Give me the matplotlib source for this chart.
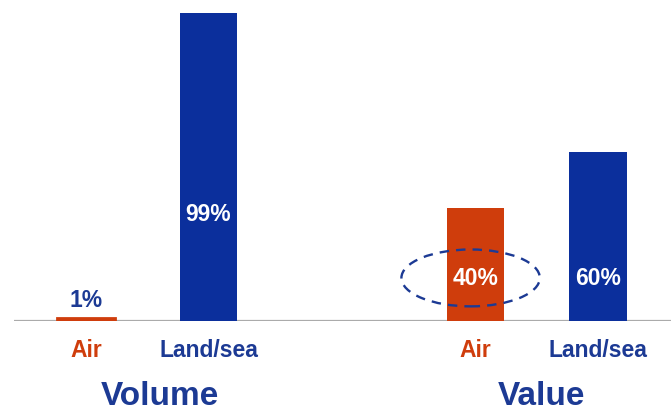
import matplotlib.pyplot as plt
import matplotlib.transforms as mtransforms
from matplotlib.patches import Ellipse

plt.rcParams['font.family'] = ['Liberation Sans', 'DejaVu Sans']

# data
groups = ['Volume', 'Value']
categories = ['Air', 'Land/sea']
volume_share = [1, 99]
value_share = [40, 60]
bar_labels_volume = ['1%', '99%']
bar_labels_value = ['40%', '60%']

red = '#CF3D0C'
blue = '#0B2F9C'
text_blue = '#1C3A94'

fig = plt.figure(figsize=(6.71, 4.14), dpi=100)
rect = [14 / 671, 92 / 414, 657 / 671, 308 / 414]
ax = fig.add_axes(rect)
ax2 = fig.add_axes(rect)

x_vol = [0, 1]
x_val = [3.18, 4.18]
w = 0.47
xlim = (-0.588, 4.776)

ax.bar(x_vol, volume_share, width=w, color=[red, blue], edgecolor=[red, blue], lw=[2, 0])
ax2.bar(x_val, value_share, width=w, color=[red, blue])
ax.set_ylim(0, 99)
ax2.set_ylim(0, 109.4)
for a in (ax, ax2):
    a.set_xlim(*xlim)
    a.axis('off')
ax2.patch.set_alpha(0)
ax.axhline(0, color='#ABABAB', lw=1.6, zorder=0)

# value labels
ax.text(x_vol[0], volume_share[0] + 6, bar_labels_volume[0], ha='center', va='center',
        color=text_blue, fontsize=16.5, fontweight='bold')
ax.text(x_vol[1], 34.4, bar_labels_volume[1], ha='center', va='center',
        color='white', fontsize=16.5, fontweight='bold')
for x, lab in zip(x_val, bar_labels_value):
    ax2.text(x, 15.3, lab, ha='center', va='center', color='white',
             fontsize=16.5, fontweight='bold')

# dashed ellipse around the air value
ax2.add_patch(Ellipse((x_val[0] - 0.04, 15.3), 1.13, 20.2, fill=False,
                      edgecolor=text_blue, lw=1.7, linestyle=(0, (4, 3))))

# category and group labels
trans = mtransforms.blended_transform_factory(ax.transData, ax.transAxes)
for x, cat in zip(x_vol + x_val, categories * 2):
    ax.text(x, -0.091, cat, transform=trans, ha='center', va='center',
            color=red if cat == 'Air' else text_blue, fontsize=16.5, fontweight='bold')
for x, g in zip([0.6, 3.72], groups):
    ax.text(x, -0.243, g, transform=trans, ha='center', va='center',
            color=text_blue, fontsize=24, fontweight='bold')

fig.savefig('out.png', dpi=100)
